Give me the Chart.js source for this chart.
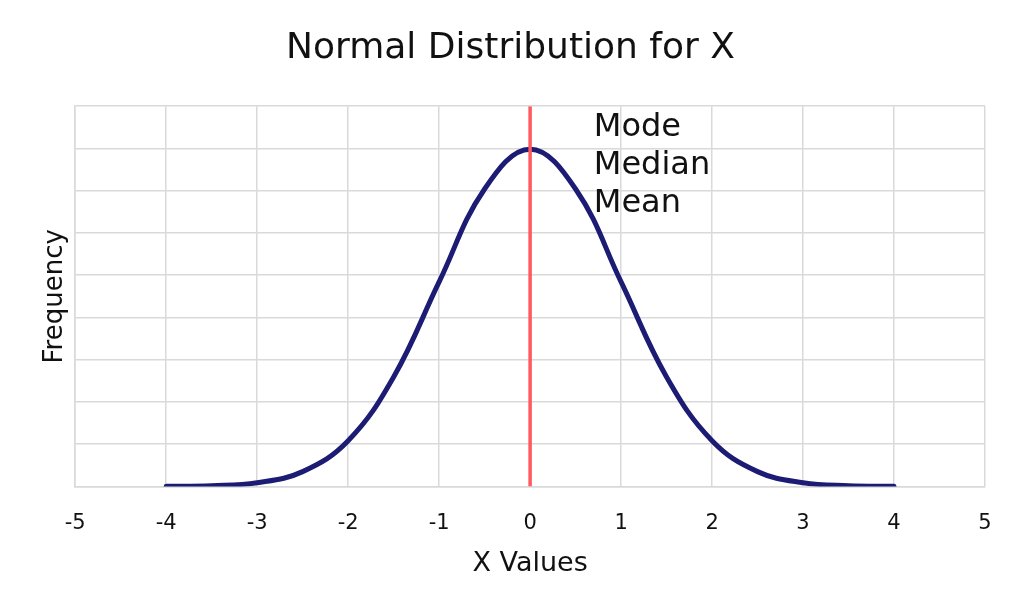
<!DOCTYPE html>
<html>
<head>
<meta charset="utf-8">
<script src="https://cdn.jsdelivr.net/npm/chart.js@4/dist/chart.umd.min.js"></script>
<style>
  html, body { margin: 0; padding: 0; background: #fff; }
  #wrap { width: 1024px; height: 614px; }
</style>
</head>
<body>
<div id="wrap"><canvas id="normalChart"></canvas></div>
<script>
const X_VALUES = [-4, -3.5, -3, -2.5, -2, -1.5, -1, -0.5, 0, 0.5, 1, 1.5, 2, 2.5, 3, 3.5, 4];
const FREQUENCY = [0.0001, 0.0009, 0.0044, 0.0175, 0.054, 0.1295, 0.242, 0.352, 0.399,
                   0.352, 0.242, 0.1295, 0.054, 0.0175, 0.0044, 0.0009, 0.0001];
const MEAN_LINE_X = [0, 0];
const MEAN_LINE_Y = [0, 0.45];
const CENTER_LABELS = ["Mode", "Median", "Mean"];

const FONT = "'DejaVu Sans', sans-serif";

const curvePoints = X_VALUES.map((x, i) => ({ x: x, y: FREQUENCY[i] }));
const meanPoints = MEAN_LINE_X.map((x, i) => ({ x: x, y: MEAN_LINE_Y[i] }));

// Writes the Mode / Median / Mean note beside the red line
const centerLabelPlugin = {
  id: "centerLabels",
  afterDatasetsDraw(chart) {
    const { ctx, scales } = chart;
    const left = scales.x.getPixelForValue(0.7);
    const top = scales.y.getPixelForValue(0.425);
    ctx.save();
    ctx.font = "32px " + FONT;
    ctx.fillStyle = "#111";
    ctx.textBaseline = "middle";
    CENTER_LABELS.forEach((text, i) => {
      ctx.fillText(text, left, top + i * 38);
    });
    ctx.restore();
  },
};

const contextOfGraph = document.getElementById("normalChart").getContext("2d");

new Chart(contextOfGraph, {
  type: "scatter",
  data: {
    datasets: [
      {
        label: "Mean",
        data: meanPoints,
        showLine: true,
        borderColor: "#ff5a5f",
        borderWidth: 3.5,
        pointRadius: 0,
      },
      {
        label: "Normal",
        data: curvePoints,
        showLine: true,
        borderColor: "#1c1c74",
        borderWidth: 5,
        borderCapStyle: "round",
        tension: 0.4,
        pointRadius: 0,
      },
    ],
  },
  options: {
    responsive: true,
    maintainAspectRatio: false,
    animation: false,
    layout: { padding: { left: 36, right: 39, top: 10, bottom: 30 } },
    plugins: {
      legend: { display: false },
      tooltip: { enabled: false },
      title: {
        display: true,
        text: "Normal Distribution for X",
        color: "#111",
        font: { family: FONT, size: 36, weight: "normal" },
        padding: { top: 17, bottom: 36 },
      },
    },
    scales: {
      x: {
        type: "linear",
        min: -5,
        max: 5,
        ticks: {
          stepSize: 1,
          color: "#111",
          padding: 25,
          font: { family: FONT, size: 21 },
        },
        grid: { color: "#d9d9d9", lineWidth: 1.5, drawTicks: false },
        border: { color: "#d9d9d9", width: 1.5 },
        title: {
          display: true,
          text: "X Values",
          color: "#111",
          font: { family: FONT, size: 27 },
          padding: { top: -14 },
        },
      },
      y: {
        min: 0,
        max: 0.45,
        ticks: { display: false, stepSize: 0.05 },
        grid: { color: "#d9d9d9", lineWidth: 1.5, drawTicks: false },
        border: { color: "#d9d9d9", width: 1.5 },
        title: {
          display: true,
          text: "Frequency",
          color: "#111",
          font: { family: FONT, size: 26 },
          padding: { bottom: 4 },
        },
      },
    },
  },
  plugins: [centerLabelPlugin],
});
</script>
</body>
</html>
